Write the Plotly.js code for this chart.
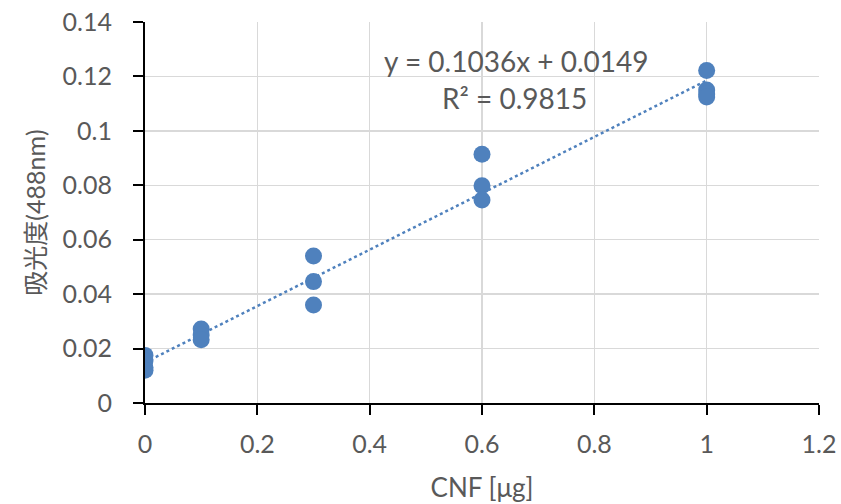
<!DOCTYPE html>
<html><head><meta charset="utf-8">
<script src="https://cdn.plot.ly/plotly-3.0.1.min.js"></script>
<style>body{margin:0;background:#fff}#c{width:841px;height:504px}</style>
</head><body><div id="c"></div>
<script>
const cnf = [0, 0, 0, 0, 0.1, 0.1, 0.1, 0.3, 0.3, 0.3, 0.6, 0.6, 0.6, 1, 1, 1, 1];
const absorbance = [0.0175, 0.0155, 0.013, 0.012, 0.0272, 0.025, 0.0232, 0.054, 0.0446, 0.036, 0.0914, 0.0798, 0.0746, 0.1222, 0.1150, 0.1135, 0.1124];
const slope = 0.1036, intercept = 0.0149, r2 = 0.9815;
const trendX = [0, 1];
const trendY = trendX.map(x => slope * x + intercept);
const xTicks = [0, 0.2, 0.4, 0.6, 0.8, 1, 1.2];
const xTickText = ['0', '0.2', '0.4', '0.6', '0.8', '1', '1.2'];
const yTicks = [0, 0.02, 0.04, 0.06, 0.08, 0.1, 0.12, 0.14];
const yTickText = ['0', '0.02', '0.04', '0.06', '0.08', '0.1', '0.12', '0.14'];

const font = 'Lato, "Noto Sans CJK JP", sans-serif';
const grey = '#595959';
const data = [
  {x: trendX, y: trendY, mode: 'lines', line: {color: '#4f81bd', width: 2.5, dash: 'dot'}, hoverinfo: 'skip'},
  {x: cnf, y: absorbance, mode: 'markers', marker: {color: '#4f81bd', size: 17}}
];
const layout = {
  width: 841, height: 504, showlegend: false,
  margin: {l: 145, r: 22, t: 22, b: 101},
  paper_bgcolor: '#fff', plot_bgcolor: '#fff',
  font: {family: font, color: grey, size: 25},
  xaxis: {range: [0, 1.2], tickvals: xTicks, ticktext: xTickText, showgrid: true, gridcolor: '#d9d9d9', gridwidth: 1.5,
          showline: true, linecolor: '#000', linewidth: 2, ticks: 'outside', ticklen: 10, tickwidth: 2, tickcolor: '#000',
          zeroline: false, tickfont: {size: 25, color: grey}, ticklabelstandoff: 8,
          title: {text: 'CNF [μg]', font: {size: 26, color: grey}, standoff: 22}},
  yaxis: {range: [0, 0.14], tickvals: yTicks, ticktext: yTickText, showgrid: true, gridcolor: '#d9d9d9', gridwidth: 1.5,
          showline: true, linecolor: '#000', linewidth: 2, ticks: 'outside', ticklen: 10, tickwidth: 2, tickcolor: '#000',
          zeroline: false, tickfont: {size: 25, color: grey}, ticklabelstandoff: 16,
          title: {text: '吸光度(488nm)', font: {size: 25, color: grey}, standoff: 10}},
  annotations: [
    {x: 0.66, y: 0.1255, xref: 'x', yref: 'y', text: 'y = ' + slope + 'x + ' + intercept, showarrow: false, font: {size: 28, color: grey}},
    {x: 0.657, y: 0.1122, xref: 'x', yref: 'y', text: 'R² = ' + r2, showarrow: false, font: {size: 28, color: grey}}
  ]
};
Plotly.newPlot('c', data, layout, {displayModeBar: false, staticPlot: true});
</script></body></html>
